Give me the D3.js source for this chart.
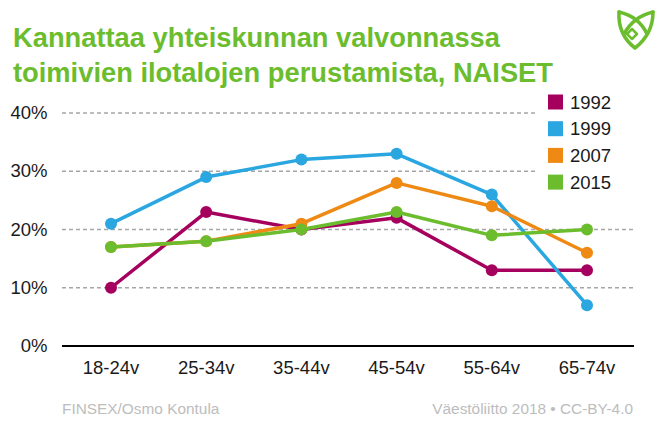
<!DOCTYPE html>
<html><head><meta charset="utf-8">
<script src="https://cdn.jsdelivr.net/npm/d3@7"></script>
<style>body{margin:0;background:#fff;} svg{display:block;font-family:"Liberation Sans",Arial,sans-serif;}</style>
</head><body>
<svg id="c" width="662" height="440"></svg>
<script>
const categories = ["18-24v","25-34v","35-44v","45-54v","55-64v","65-74v"];
const years = ["1992","1999","2007","2015"];
const v1992 = [10,23,20,22,13,13];
const v1999 = [21,29,32,33,26,7];
const v2007 = [17,18,21,28,24,16];
const v2015 = [17,18,20,23,19,20];
const yTicks = [0,10,20,30,40];
const colors = ["#A6005E","#2AA6E0","#EE8A13","#6CBD2E"];
const series = [v1992,v1999,v2007,v2015];

const svg = d3.select("#c");
const x = d3.scalePoint().domain(categories).range([111,587]);
const y = d3.scaleLinear().domain([0,40]).range([346,113]);

// title
const green = "#6CBD2E";
svg.append("text").attr("x",13).attr("y",47).attr("fill",green).attr("font-weight","bold").attr("font-size",27.3).text("Kannattaa yhteiskunnan valvonnassa");
svg.append("text").attr("x",13).attr("y",82).attr("fill",green).attr("font-weight","bold").attr("font-size",27.3).text("toimivien ilotalojen perustamista, NAISET");

// logo
const lg = svg.append("g").attr("fill","none").attr("stroke",green).attr("stroke-width",3.5).attr("stroke-linejoin","round").attr("stroke-linecap","round");
lg.append("path").attr("d","M619,12 C618,29 626,41 635,48 C644,41 653,29 653,12");
lg.append("path").attr("d","M619,12 C632,15 642,23 647,34");
lg.append("path").attr("d","M653,12 C640,15 630,23 624,34");
lg.append("path").attr("d","M632,29 L637,34 L632,39 L627,34 Z").attr("stroke-width",2.5);

// grid
const g = svg.append("g");
yTicks.filter(d=>d>0).forEach(t=>{
  g.append("line").attr("x1",62).attr("x2",634).attr("y1",y(t)).attr("y2",y(t))
   .attr("stroke","#a6a6a6").attr("stroke-width",1.3).attr("stroke-dasharray","4,3");
});
// y labels
yTicks.forEach(t=>{
  svg.append("text").attr("x",47.5).attr("y",y(t)+6).attr("text-anchor","end").attr("font-size",18.5).attr("fill","#1a1a1a").text(t+"%");
});
// x axis
svg.append("line").attr("x1",62).attr("x2",634).attr("y1",346).attr("y2",346).attr("stroke","#000").attr("stroke-width",2);
categories.forEach(c=>{
  svg.append("text").attr("x",x(c)).attr("y",374).attr("text-anchor","middle").attr("font-size",18.5).attr("fill","#1a1a1a").text(c);
});

// legend background
svg.append("rect").attr("x",538).attr("y",88).attr("width",100).attr("height",108).attr("fill","#fff");

// lines
const line = d3.line().x((d,i)=>x(categories[i])).y(d=>y(d));
series.forEach((s,k)=>{
  svg.append("path").datum(s).attr("d",line).attr("fill","none").attr("stroke",colors[k]).attr("stroke-width",3.5).attr("stroke-linejoin","round");
  svg.selectAll(null).data(s).enter().append("circle").attr("cx",(d,i)=>x(categories[i])).attr("cy",d=>y(d)).attr("r",6).attr("fill",colors[k]);
});

// legend
years.forEach((yr,k)=>{
  const yy = 102 + k*26.7;
  svg.append("rect").attr("x",548).attr("y",yy-7.5).attr("width",15).attr("height",15).attr("fill",colors[k]);
  svg.append("text").attr("x",570).attr("y",yy+6.5).attr("font-size",18.5).attr("fill","#1a1a1a").text(yr);
});

// footer
svg.append("text").attr("x",62).attr("y",414).attr("font-size",15.4).attr("fill","#bdbdbd").text("FINSEX/Osmo Kontula");
svg.append("text").attr("x",633).attr("y",414).attr("text-anchor","end").attr("font-size",15.4).attr("fill","#bdbdbd").text("Väestöliitto 2018 • CC-BY-4.0");
</script>
</body></html>
